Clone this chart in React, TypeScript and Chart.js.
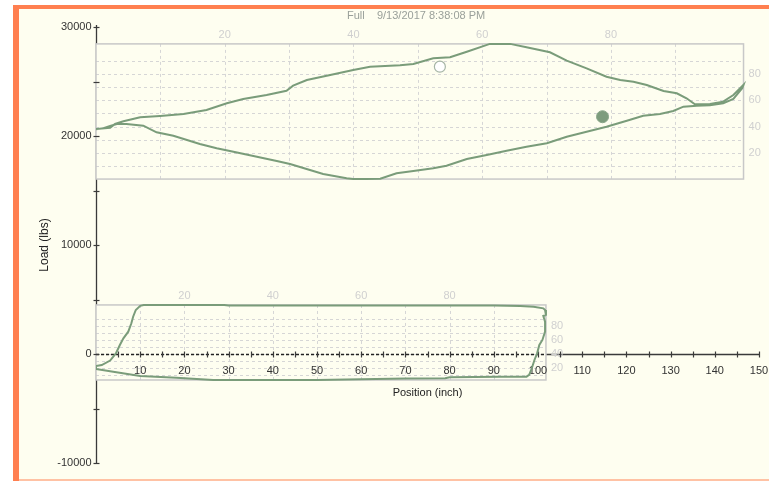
import { useEffect, useRef } from 'react';
import { Chart, registerables } from 'chart.js';

Chart.register(...registerables);

const TITLE = 'Full    9/13/2017 8:38:08 PM';
const X_TITLE = 'Position (inch)';
const Y_TITLE = 'Load (lbs)';

// Surface card: upstroke left to right, then downstroke back to the start
const surfacePosition = [
  0, 3.2, 4.3, 6.2, 10, 14.5, 19.8, 25, 29.6, 33.3, 38.6, 43.1, 44.6, 47.7, 52.2, 58.2, 62, 68.8,
  71.8, 76.3, 80.1, 83.9, 89.1, 93.7, 97.4, 102.7, 106.5, 111, 115.5, 118.6, 121.6, 124.6, 128.4,
  131.4, 133.6, 135.5, 138.9, 141.9, 144.2, 146.5,
  146.2, 144.2, 141.9, 138.9, 135.9, 132.9, 130.6, 127.6, 123.8, 120.1, 115.5, 111, 106.5, 102,
  97.4, 92.9, 88.4, 83.9, 79.3, 76.3, 71.8, 68, 64.3, 61, 58.2, 56.7, 51.4, 48.4, 43.9, 40.9,
  36.4, 31.1, 27.3, 23.5, 17.5, 13.7, 10.7, 6.9, 4.7, 3.2, 1.7, 0,
];
const surfaceLoad = [
  20640, 20760, 21100, 21350, 21715, 21835, 22020, 22385, 23000, 23395, 23760, 24155, 24615, 25140,
  25535, 26055, 26360, 26485, 26605, 27130, 27220, 27735, 28450, 28450, 28135, 27680, 26910, 26210,
  25440, 25140, 24980, 24680, 24130, 23920, 23460, 22910, 22935, 23150, 23760, 24700,
  24380, 23395, 23000, 22815, 22780, 22690, 22295, 22020, 21865, 21405, 20855, 20395, 19935, 19330,
  19020, 18650, 18255, 17890, 17275, 17035, 16790, 16580, 16080, 16050, 16050, 16120, 16515, 16880,
  17430, 17705, 18100, 18560, 18870, 19265, 20030, 20340, 20945, 21100, 21100, 20920, 20705, 20615,
];

// Downhole (pump) card
const downholePosition = [
  0, 1.3, 3.2, 4.5, 5.4, 6.2, 7.3, 8.0, 8.4, 9.0, 10.0, 10.8, 20, 29, 30, 50, 70, 80, 90, 96, 99,
  101.2, 101.6, 101.8, 101.2, 101.6, 101.6, 101, 100.3, 99.8, 99.2, 98.6, 98, 97.4, 91.4, 80, 79,
  70, 50, 40, 26.5, 18.2, 10, 3.9, 0, 0,
];
const downholeLoad = [
  -1100, -1010, -600, 50, 830, 1440, 2050, 2820, 3420, 4040, 4420, 4500, 4500, 4490, 4460, 4460,
  4460, 4440, 4440, 4400, 4330, 4190, 4040, 3580, 3490, 2960, 2050, 1290, 830, 60, -550, -1310,
  -1920, -2080, -2080, -2140, -2230, -2240, -2385, -2385, -2385, -2170, -2017, -1620, -1375, -1100,
];

// Stroke markers: [position, load]
const openMarker = [77.8, 26360];
const filledMarker = [114.6, 21770];

// Main axes
const loadTicks = [-10000, -5000, 0, 5000, 10000, 15000, 20000, 25000, 30000];
const loadTickLabels = ['-10000', '', '0', '', '10000', '', '20000', '', '30000'];
const positionTicks = [
  5, 10, 15, 20, 25, 30, 35, 40, 45, 50, 55, 60, 65, 70, 75, 80, 85, 90, 95, 100, 105, 110, 115,
  120, 125, 130, 135, 140, 145, 150,
];
const positionTickLabels = positionTicks.map((v) => (v % 10 === 0 ? String(v) : ''));

// Percent grids of the two card frames
const insetGridPercents = [10, 20, 30, 40, 50, 60, 70, 80, 90];
const insetLabelPercents = [20, 40, 60, 80];

const BG = '#fefef0';
const CARD = '#7a9c7a';
const AXIS = '#3a3a3a';
const TEXT = '#333333';
const GRID = '#d6d6d6';
const FRAME = '#c8c8c8';
const INSET_TEXT = '#d0d0d0';
const FONT = '"Liberation Sans", Arial, sans-serif';

type Span = { x: number; yLo: number; yHi: number };
const surfaceSpan: Span = { x: 100.6, yLo: 0, yHi: 103 };
const downholeSpan: Span = { x: 101.8, yLo: 3, yHi: 110 };

function seg(ctx: CanvasRenderingContext2D, x1: number, y1: number, x2: number, y2: number) {
  ctx.beginPath();
  ctx.moveTo(x1, y1);
  ctx.lineTo(x2, y2);
  ctx.stroke();
}

function frameBox(xs: any, ys: any, pos: number[], load: number[]) {
  const left = xs.getPixelForValue(Math.min(...pos));
  const right = xs.getPixelForValue(Math.max(...pos));
  const top = ys.getPixelForValue(Math.max(...load));
  const bottom = ys.getPixelForValue(Math.min(...load));
  return { left, right, top, bottom };
}

function drawInset(ctx: CanvasRenderingContext2D, box: any, span: Span) {
  const { left, right, top, bottom } = box;
  ctx.fillStyle = BG;
  ctx.fillRect(left, top, right - left, bottom - top);
  const px = (p: number) => left + (p / span.x) * (right - left);
  const py = (p: number) => bottom - ((p - span.yLo) / (span.yHi - span.yLo)) * (bottom - top);

  ctx.save();
  ctx.setLineDash([3, 3]);
  ctx.strokeStyle = GRID;
  ctx.lineWidth = 1;
  for (const p of insetGridPercents) {
    const gx = Math.round(px(p)) + 0.5;
    seg(ctx, gx, top, gx, bottom);
    const gy = Math.round(py(p)) + 0.5;
    seg(ctx, left, gy, right, gy);
  }
  ctx.restore();

  ctx.strokeStyle = FRAME;
  ctx.lineWidth = 1.5;
  ctx.strokeRect(left, top, right - left, bottom - top);

  ctx.fillStyle = INSET_TEXT;
  ctx.font = `11px ${FONT}`;
  ctx.textBaseline = 'middle';
  ctx.textAlign = 'center';
  for (const p of insetLabelPercents) ctx.fillText(String(p), px(p), top - 9);
  ctx.textAlign = 'left';
  for (const p of insetLabelPercents) ctx.fillText(String(p), right + 5, py(p));
}

const cardPlugin = {
  id: 'cardPlugin',
  beforeDraw(chart: any) {
    const { ctx, width, height } = chart;
    ctx.save();
    ctx.fillStyle = '#ffffff';
    ctx.fillRect(0, 0, width, height);
    ctx.fillStyle = '#ff7f50';
    ctx.fillRect(13, 5, width - 13, height - 5);
    ctx.fillStyle = BG;
    ctx.fillRect(19, 9, width - 19, height - 11);
    ctx.fillStyle = '#ffc2a4';
    ctx.fillRect(19, height - 2, width - 19, 2);
    ctx.restore();
  },
  beforeDatasetsDraw(chart: any) {
    const { ctx, chartArea, scales } = chart;
    const xs = scales.x;
    const ys = scales.y;
    const x0 = Math.round(xs.getPixelForValue(0)) + 0.5;
    const y0 = Math.round(ys.getPixelForValue(0)) + 0.5;
    const yTop = ys.getPixelForValue(loadTicks[loadTicks.length - 1]);
    const yBot = ys.getPixelForValue(loadTicks[0]);
    const xEnd = xs.getPixelForValue(positionTicks[positionTicks.length - 1]);

    ctx.save();
    // main axis lines
    ctx.strokeStyle = AXIS;
    ctx.lineWidth = 1.3;
    seg(ctx, x0, yTop - 2, x0, yBot);
    seg(ctx, x0, y0, xEnd, y0);

    // card frames
    const surfBox = frameBox(xs, ys, surfacePosition, surfaceLoad);
    const downBox = frameBox(xs, ys, downholePosition, downholeLoad);
    drawInset(ctx, surfBox, surfaceSpan);
    drawInset(ctx, downBox, downholeSpan);

    // zero line across the downhole frame
    ctx.save();
    ctx.setLineDash([3, 2]);
    ctx.strokeStyle = '#222222';
    ctx.lineWidth = 1.3;
    seg(ctx, downBox.left, y0, downBox.right, y0);
    ctx.restore();

    // ticks
    ctx.strokeStyle = AXIS;
    ctx.lineWidth = 1.2;
    for (const v of loadTicks) {
      const ty = Math.round(ys.getPixelForValue(v)) + 0.5;
      seg(ctx, x0 - 3, ty, x0 + 3, ty);
    }
    for (const v of positionTicks) {
      const tx = Math.round(xs.getPixelForValue(v)) + 0.5;
      seg(ctx, tx, y0 - 3, tx, y0 + 3);
    }

    // tick labels
    ctx.fillStyle = TEXT;
    ctx.font = `11px ${FONT}`;
    ctx.textBaseline = 'middle';
    ctx.textAlign = 'right';
    loadTicks.forEach((v, i) => {
      if (loadTickLabels[i]) ctx.fillText(loadTickLabels[i], x0 - 5, ys.getPixelForValue(v));
    });
    ctx.textAlign = 'center';
    positionTicks.forEach((v, i) => {
      if (positionTickLabels[i]) ctx.fillText(positionTickLabels[i], xs.getPixelForValue(v), y0 + 16);
    });

    // axis titles
    ctx.fillStyle = '#222222';
    ctx.fillText(X_TITLE, (chartArea.left + chartArea.right) / 2, y0 + 38);
    ctx.save();
    ctx.font = `12px ${FONT}`;
    ctx.translate(45, (chartArea.top + chartArea.bottom) / 2);
    ctx.rotate(-Math.PI / 2);
    ctx.fillText(Y_TITLE, 0, 0);
    ctx.restore();

    // chart title
    ctx.fillStyle = '#9aa09a';
    ctx.font = `11px ${FONT}`;
    ctx.textAlign = 'left';
    ctx.fillText(TITLE, 347, 16);
    ctx.restore();
  },
};

export default function App() {
  const canvasRef = useRef<HTMLCanvasElement | null>(null);

  useEffect(() => {
    if (!canvasRef.current) return;
    const toPoints = (xs: number[], ys: number[]) => xs.map((x, i) => ({ x, y: ys[i] }));
    const chart = new Chart(canvasRef.current, {
      type: 'scatter',
      data: {
        datasets: [
          {
            label: 'Surface',
            data: toPoints(surfacePosition, surfaceLoad),
            showLine: true,
            borderColor: CARD,
            borderWidth: 2,
            pointRadius: 0,
            tension: 0,
          },
          {
            label: 'Downhole',
            data: toPoints(downholePosition, downholeLoad),
            showLine: true,
            borderColor: CARD,
            borderWidth: 2,
            pointRadius: 0,
            tension: 0,
          },
          {
            label: 'Top of stroke',
            data: [{ x: openMarker[0], y: openMarker[1] }],
            showLine: false,
            pointRadius: 5.5,
            pointBackgroundColor: '#ffffff',
            pointBorderColor: '#a6b5a6',
            pointBorderWidth: 1.2,
          },
          {
            label: 'Bottom of stroke',
            data: [{ x: filledMarker[0], y: filledMarker[1] }],
            showLine: false,
            pointRadius: 6,
            pointBackgroundColor: '#7d9c7d',
            pointBorderColor: '#8aa78a',
            pointBorderWidth: 1,
          },
        ],
      },
      options: {
        responsive: false,
        animation: false,
        events: [],
        layout: { padding: { left: 96, right: 10, top: 27, bottom: 18 } },
        scales: {
          x: { type: 'linear', min: 0, max: 150, display: false },
          y: { type: 'linear', min: -10000, max: 30000, display: false },
        },
        plugins: {
          legend: { display: false },
          tooltip: { enabled: false },
          title: { display: false },
        },
      },
      plugins: [cardPlugin],
    });
    return () => chart.destroy();
  }, []);

  return (
    <div style={{ position: 'absolute', left: 0, top: 0, width: 769, height: 481 }}>
      <canvas ref={canvasRef} width={769} height={481} style={{ display: 'block' }} />
    </div>
  );
}
